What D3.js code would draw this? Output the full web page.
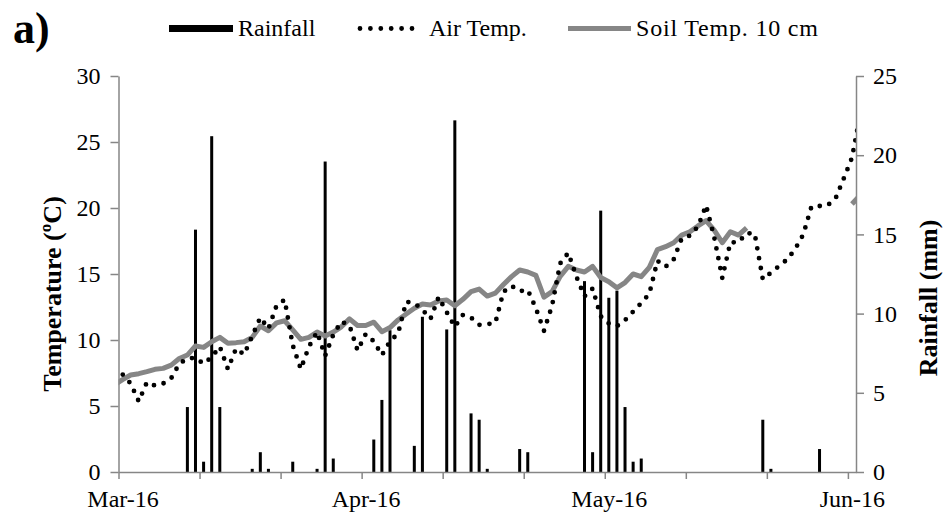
<!DOCTYPE html>
<html><head><meta charset="utf-8">
<script src="https://cdn.jsdelivr.net/npm/d3@7/dist/d3.min.js"></script>
<style>body{margin:0;background:#fff}svg{display:block}</style>
</head><body>
<svg id="chart" width="943" height="518"></svg>
<script>
// Day index: 0 = 2 Mar 2016 ... 90 = 31 May 2016 (one category per day)
const xTickLabels = ["Mar-16", "Apr-16", "May-16", "Jun-16"];
const xTickLabelDays = [0, 30, 60, 90];
const xTickDays = [-0.5, 9.5, 19.5, 29.5, 39.5, 49.5, 59.5, 69.5, 79.5, 89.5];
const tempTicks = [0, 5, 10, 15, 20, 25, 30];
const rainTicks = [0, 5, 10, 15, 20, 25];

// temperature series run from day -1 to day 91 (ends clipped by the plot area)
const tempFirstDay = -1;
const airTemp = [7.8, 7.4, 6.7, 5.35, 6.8, 6.55, 6.7, 7.1, 8.2, 8.6,
  8.65, 8.2, 8.7, 9.5, 7.8, 9.35, 8.9, 10.3, 11.7, 10.85,
  12.6, 13.05, 9.6, 7.8, 9.5, 10.6, 8.8, 10.4, 11.4, 11.1,
  9.2, 10.45, 9.9, 8.85, 9.9, 10.5, 12.9, 12.8, 12.3, 11.6,
  13.25, 12.1, 11.0, 11.9, 11.7, 11.15, 11.2, 11.3, 13.65, 14.1,
  13.7, 13.8, 12.4, 10.7, 12.6, 15.8, 16.6, 14.8, 13.3, 13.9,
  11.8, 11.25, 11.05, 11.5, 12.15, 12.8, 13.5, 16.0, 15.55, 16.1,
  17.7, 17.9, 18.6, 20.2, 17.8, 14.7, 17.4, 17.4, 18.1, 18.05,
  14.6, 15.1, 15.6, 16.1, 16.9, 18.0, 20.1, 20.15, 20.2, 20.75,
  22.25, 23.8, 27.0];
const soilTemp = [6.6, 7.0, 7.35, 7.45, 7.6, 7.78, 7.85, 8.1, 8.6, 8.86,
  9.55, 9.44, 9.87, 10.2, 9.75, 9.8, 9.87, 10.2, 11.06, 10.7,
  11.3, 11.46, 10.76, 10.05, 10.2, 10.6, 10.3, 10.6, 11.0, 11.6,
  11.1, 11.1, 11.35, 10.63, 10.94, 11.52, 11.97, 12.4, 12.73, 12.65,
  12.95, 13.03, 12.6, 13.08, 13.66, 13.86, 13.33, 13.55, 14.2, 14.8,
  15.3, 15.15, 14.9, 13.25, 13.66, 14.82, 15.58, 15.3, 15.15, 15.58,
  14.73, 14.42, 13.95, 14.35, 15.0, 14.8, 15.5, 16.85, 17.07, 17.37,
  17.95, 18.2, 18.64, 19.04, 18.33, 17.37, 18.2, 17.95, 18.5,
  null, null, null, null, null, null, null, null, null, null, null, null,
  20.3, 20.95];

const rainDays = [8, 9, 10, 11, 12, 16, 17, 18, 21, 24, 25, 26, 31, 32, 33, 36, 37,
  40, 41, 43, 44, 45, 49, 50, 57, 58, 59, 60, 61, 62, 63, 64, 79, 80, 86];
const rainMm = [4.1, 15.3, 0.65, 21.2, 4.1, 0.2, 1.25, 0.2, 0.65, 0.2, 19.6, 0.85, 2.05, 4.55, 8.95, 1.65, 9.8,
  9.0, 22.2, 3.7, 3.3, 0.2, 1.45, 1.25, 12.05, 1.25, 16.5, 11.0, 11.45, 4.1, 0.65, 0.85, 3.3, 0.2, 1.45];

const FONT = "'Liberation Serif','Times New Roman',serif";
const AXIS = "#868686";
const SOIL = "#868686";

const svg = d3.select("#chart");
const L = 118.5, R = 856, T = 76, B = 472;

const x = d3.scaleLinear().domain([-0.5, 90.5]).range([L, R]);
const yT = d3.scaleLinear().domain([0, 30]).range([B, T]);
const yR = d3.scaleLinear().domain([0, 25]).range([B, T]);

svg.append("defs").append("clipPath").attr("id", "plotclip")
  .append("rect").attr("x", L).attr("y", 0).attr("width", R - L).attr("height", 518);

// rainfall bars
svg.append("g").selectAll("rect").data(rainDays.map((d, i) => ({d, v: rainMm[i]})))
  .join("rect")
  .attr("x", d => x(d.d) - 1.5).attr("width", 3)
  .attr("y", d => yR(d.v)).attr("height", d => yR(0) - yR(d.v))
  .attr("fill", "#000");

const plot = svg.append("g").attr("clip-path", "url(#plotclip)");
const line = d3.line().defined(d => d.v != null).x(d => x(d.d)).y(d => yT(d.v));

plot.append("path").datum(soilTemp.map((v, i) => ({d: tempFirstDay + i, v})))
  .attr("d", line).attr("fill", "none").attr("stroke", SOIL)
  .attr("stroke-width", 5).attr("stroke-linejoin", "round");

plot.append("path").datum(airTemp.map((v, i) => ({d: tempFirstDay + i, v})))
  .attr("d", line).attr("fill", "none").attr("stroke", "#000")
  .attr("stroke-width", 4.8).attr("stroke-linecap", "round")
  .attr("stroke-dasharray", "0 10");

// axes
function styleAxis(g) {
  g.selectAll(".domain").attr("stroke", AXIS).attr("stroke-width", 1.5);
  g.selectAll(".tick line").attr("stroke", AXIS).attr("stroke-width", 1.5);
  g.selectAll("text").attr("font-family", FONT).attr("font-size", 24).attr("fill", "#000");
}
svg.append("g").attr("transform", `translate(${L},0)`)
  .call(d3.axisLeft(yT).tickValues(tempTicks).tickSize(8).tickSizeOuter(0).tickPadding(10))
  .call(styleAxis);
svg.append("g").attr("transform", `translate(${R},0)`)
  .call(d3.axisRight(yR).tickValues(rainTicks).tickSize(8).tickSizeOuter(0).tickPadding(9))
  .call(styleAxis);
svg.append("g").attr("transform", `translate(0,${B})`)
  .call(d3.axisBottom(x).tickValues(xTickDays).tickFormat("").tickSize(7).tickSizeOuter(0))
  .call(styleAxis);
svg.append("g").attr("transform", `translate(0,${B})`)
  .call(d3.axisBottom(x).tickValues(xTickLabelDays)
    .tickFormat((d, i) => xTickLabels[i]).tickSize(0).tickPadding(18))
  .call(styleAxis)
  .call(g => g.select(".domain").remove());

// axis titles
svg.append("text").attr("transform", `translate(52,${(T + B) / 2 + 20}) rotate(-90)`)
  .attr("text-anchor", "middle").attr("dominant-baseline", "central")
  .attr("font-family", FONT).attr("font-weight", "bold").attr("font-size", 26)
  .text("Temperature (ºC)");
svg.append("text").attr("transform", `translate(928,${(T + B) / 2 + 24}) rotate(-90)`)
  .attr("text-anchor", "middle").attr("dominant-baseline", "central")
  .attr("font-family", FONT).attr("font-weight", "bold").attr("font-size", 26)
  .text("Rainfall (mm)");

// panel letter
svg.append("text").attr("x", 13).attr("y", 43)
  .attr("font-family", FONT).attr("font-weight", "bold").attr("font-size", 44).text("a)");

// legend
const lg = svg.append("g").attr("font-family", FONT).attr("font-size", 24);
lg.append("rect").attr("x", 169).attr("y", 25).attr("width", 64).attr("height", 7).attr("fill", "#000");
lg.append("text").attr("x", 238).attr("y", 36).text("Rainfall");
lg.append("path").attr("d", `M360,28.5H412`).attr("stroke", "#000").attr("stroke-width", 4.8)
  .attr("stroke-linecap", "round").attr("stroke-dasharray", "0 10.4");
lg.append("text").attr("x", 429).attr("y", 36).text("Air Temp.");
lg.append("path").attr("d", `M568,28.5H631`).attr("stroke", SOIL).attr("stroke-width", 5);
lg.append("text").attr("x", 636).attr("y", 36).attr("textLength", 182).text("Soil Temp. 10 cm");
</script>
</body></html>
